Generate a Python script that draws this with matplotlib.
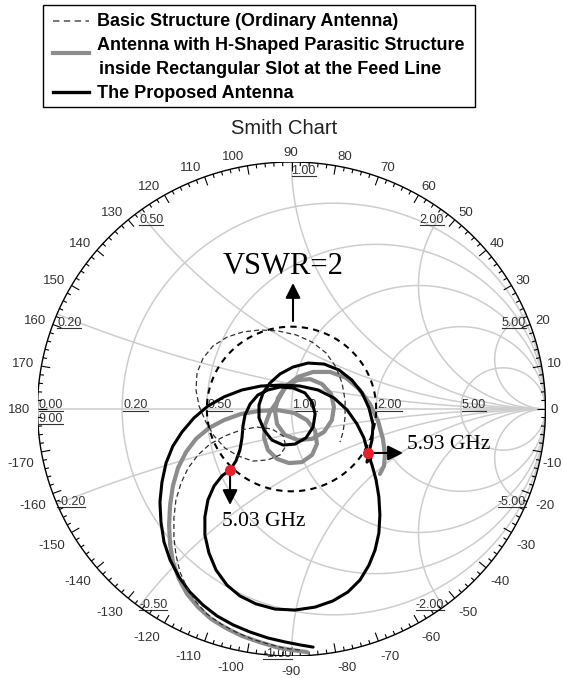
import numpy as np
import matplotlib
matplotlib.use("Agg")
import matplotlib.pyplot as plt
from matplotlib.patches import Rectangle

# reflection coefficient traces, Gamma = re + j*im
basic_re = [0.033, -0.030, -0.093, -0.156, -0.219, -0.278, -0.333, -0.376, -0.411, -0.439,
            -0.455, -0.463, -0.463, -0.455, -0.435, -0.407, -0.368, -0.321, -0.262, -0.199,
            -0.136, -0.077, -0.033, -0.022, -0.045, -0.093, -0.152, -0.211, -0.262, -0.305,
            -0.337, -0.364, -0.376, -0.372, -0.348, -0.309, -0.254, -0.191, -0.124, -0.053,
            0.018, 0.081, 0.136, 0.175, 0.199, 0.211, 0.211, 0.203, 0.191]
basic_im = [-0.976, -0.968, -0.951, -0.931, -0.903, -0.870, -0.830, -0.781, -0.725, -0.660,
            -0.591, -0.518, -0.441, -0.368, -0.300, -0.239, -0.186, -0.142, -0.109, -0.085,
            -0.073, -0.081, -0.109, -0.150, -0.186, -0.206, -0.211, -0.190, -0.158, -0.109,
            -0.053, 0.012, 0.077, 0.146, 0.206, 0.255, 0.291, 0.312, 0.320, 0.316,
            0.300, 0.271, 0.227, 0.170, 0.105, 0.036, -0.032, -0.093, -0.134]

hslot_re = [0.061, 0.002, -0.061, -0.128, -0.195, -0.258, -0.317, -0.368, -0.411, -0.443,
            -0.467, -0.478, -0.482, -0.478, -0.467, -0.447, -0.415, -0.376, -0.325, -0.266,
            -0.199, -0.128, -0.057, 0.010, 0.061, 0.093, 0.100, 0.081, 0.041, -0.010,
            -0.057, -0.093, -0.108, -0.104, -0.085, -0.053, -0.026, 0.022, 0.073, 0.120,
            0.156, 0.167, 0.159, 0.128, 0.081, 0.026, -0.026, -0.057, -0.065, -0.053,
            -0.022, 0.026, 0.085, 0.152, 0.215, 0.266, 0.309, 0.341, 0.360, 0.368,
            0.364, 0.348]
hslot_im = [-0.984, -0.976, -0.964, -0.943, -0.919, -0.887, -0.850, -0.802, -0.749, -0.688,
            -0.619, -0.547, -0.470, -0.389, -0.312, -0.239, -0.174, -0.121, -0.077, -0.045,
            -0.020, -0.008, -0.004, -0.016, -0.045, -0.089, -0.142, -0.186, -0.215, -0.219,
            -0.202, -0.166, -0.117, -0.065, -0.012, 0.036, 0.085, 0.117, 0.121, 0.101,
            0.061, 0.008, -0.045, -0.093, -0.121, -0.126, -0.105, -0.061, -0.008, 0.045,
            0.093, 0.130, 0.150, 0.150, 0.126, 0.081, 0.020, -0.049, -0.121, -0.186,
            -0.231, -0.263]

prop_re = [0.085, 0.033, -0.026, -0.093, -0.163, -0.230, -0.293, -0.348, -0.400, -0.443,
           -0.478, -0.502, -0.514, -0.518, -0.510, -0.494, -0.467, -0.431, -0.384, -0.329,
           -0.266, -0.195, -0.120, -0.041, 0.033, 0.104, 0.167, 0.219, 0.258, 0.285,
           0.301, 0.317, 0.333, 0.344, 0.348, 0.344, 0.329, 0.305, 0.270, 0.222,
           0.163, 0.093, 0.014, -0.065, -0.140, -0.203, -0.254, -0.297, -0.325, -0.341,
           -0.341, -0.329, -0.305, -0.274, -0.242, -0.219, -0.203, -0.195, -0.191, -0.183,
           -0.163, -0.132, -0.093, -0.045, 0.006, 0.053, 0.081, 0.093, 0.085, 0.057,
           0.014, -0.033, -0.077, -0.108, -0.128, -0.128, -0.112, -0.085, -0.045, 0.006,
           0.065, 0.128, 0.187, 0.238, 0.278, 0.305, 0.321, 0.317, 0.305, 0.297,
           0.313]
prop_im = [-0.964, -0.955, -0.943, -0.927, -0.903, -0.874, -0.838, -0.794, -0.741, -0.680,
           -0.611, -0.538, -0.457, -0.377, -0.296, -0.219, -0.150, -0.093, -0.036, 0.012,
           0.049, 0.077, 0.093, 0.097, 0.093, 0.077, 0.045, -0.004, -0.061, -0.117,
           -0.178, -0.227, -0.287, -0.356, -0.429, -0.502, -0.571, -0.632, -0.692, -0.741,
           -0.777, -0.802, -0.814, -0.810, -0.789, -0.757, -0.713, -0.652, -0.583, -0.510,
           -0.437, -0.368, -0.312, -0.271, -0.247, -0.211, -0.166, -0.117, -0.069, -0.024,
           0.020, 0.057, 0.077, 0.089, 0.085, 0.065, 0.028, -0.020, -0.073, -0.117,
           -0.142, -0.146, -0.126, -0.085, -0.036, 0.016, 0.065, 0.105, 0.142, 0.170,
           0.186, 0.182, 0.158, 0.117, 0.065, 0.004, -0.061, -0.126, -0.174, -0.215,
           -0.198]

# where the proposed antenna crosses the VSWR = 2 circle
mark_labels = ["5.03 GHz", "5.93 GHz"]
mark_re = [-0.242, 0.301]
mark_im = [-0.247, -0.178]

vswr = 2
r_grid = [0.2, 0.5, 1.0, 2.0, 5.0]
x_grid = [0.2, 0.5, 1.0, 2.0, 5.0]
legend_lines = ["Basic Structure (Ordinary Antenna)",
                "Antenna with H-Shaped Parasitic Structure",
                "inside Rectangular Slot at the Feed Line",
                "The Proposed Antenna"]

SANS = "Liberation Sans"
SERIF = "Liberation Serif"
GRID = "#cdcdcd"
LBL = "#333333"

W, H = 563, 678
CX, CY, RX, RY = 291.5, 409.0, 254.0, 247.0   # chart centre / radii in pixels


def pd(px, py):
    # pixel position -> chart data coords
    return (px - CX) / RX, (CY - py) / RY


def rim(deg, inset=0.0):
    a = np.radians(deg)
    return CX + (RX - inset) * np.cos(a), CY - (RY - inset) * np.sin(a)


fig = plt.figure(figsize=(W / 100, H / 100), dpi=100)
ax = fig.add_axes([(CX - RX) / W, 1 - (CY + RY) / H, 2 * RX / W, 2 * RY / H])
ax.set_xlim(-1, 1)
ax.set_ylim(-1, 1)
ax.axis("off")

# impedance grid
t = np.linspace(0, 2 * np.pi, 721)
for r in r_grid:
    c, rad = r / (1 + r), 1 / (1 + r)
    ax.plot(c + rad * np.cos(t), rad * np.sin(t), color=GRID, lw=1.1, zorder=1)
rr = np.concatenate([np.linspace(0, 1, 200), np.logspace(0, 4, 500)])
for x in x_grid:
    for s in (1, -1):
        g = (rr + 1j * s * x - 1) / (rr + 1j * s * x + 1)
        ax.plot(g.real, g.imag, color=GRID, lw=1.1, zorder=1)
ax.plot([-1, 1], [0, 0], color=GRID, lw=1.1, zorder=1)

# outer rim with angle ticks
ax.plot(np.cos(t), np.sin(t), color="k", lw=1.0, zorder=4)
for d in range(-180, 180, 2):
    L = 9 if d % 10 == 0 else 4
    x0, y0 = rim(d)
    x1, y1 = rim(d, L)
    a, b = pd(x0, y0)
    c, e = pd(x1, y1)
    ax.plot([a, c], [b, e], color="k", lw=0.8, zorder=4, solid_capstyle="butt")

for d in range(-170, 181, 10):
    a = np.radians(d)
    px, py = rim(d)
    ca, sa = np.cos(a), np.sin(a)
    if abs(d) == 90:
        ha, px = "center", px - 1
    elif d == -10:
        ha, px = "right", W - 1
    elif ca > 0:
        ha, px = "left", px + 1 + 4 * abs(ca)
    else:
        ha, px = "right", px - 2 - 5 * abs(ca)
    if d in (0, 180):
        py += 1
    elif d > 0:
        py += -1 - 8 * sa
    else:
        py += 11 + 5 * abs(sa)
    ax.text(*pd(px, py), str(d), ha=ha, va="center", fontsize=9.5,
            family=SANS, color=LBL, zorder=2)

# underlined grid values
underlined = []


def grid_label(s, px, base, ha):
    tx = ax.text(*pd(px, base), s, ha=ha, va="baseline", fontsize=9,
                 family=SANS, color=LBL, zorder=2)
    underlined.append((tx, base))


grid_label("0.00", 38.5, 408.5, "left")
grid_label("9.00", 38.5, 421.5, "left")
for r in r_grid:
    gx = (r - 1) / (r + 1)
    grid_label(f"{r:.2f}", CX + RX * gx + 1, 408.5, "left")
for x in x_grid:
    for s in (1, -1):
        g = (1j * s * x - 1) / (1j * s * x + 1)
        px, py = CX + RX * g.real, CY - RY * g.imag
        if s > 0:
            ha = "left" if g.real <= 0.01 else "right"
            grid_label(f"{x:.2f}", px, py + 12, ha)
        else:
            ha = "left" if g.real < -0.01 else "right"
            grid_label(f"{-x:.2f}", px, py + 1, ha)

# measured traces
ax.plot(hslot_re, hslot_im, color="#8c8c8c", lw=3.0, zorder=5,
        solid_joinstyle="round", solid_capstyle="round")
ax.plot(prop_re, prop_im, color="k", lw=2.2, zorder=6,
        solid_joinstyle="round", solid_capstyle="round")
ax.plot(basic_re, basic_im, color="#2e2e2e", lw=0.9, ls=(0, (4, 2.5)), zorder=7)

# VSWR = 2 circle
rho = (vswr - 1) / (vswr + 1)
ax.plot(rho * np.cos(t), rho * np.sin(t), color="k", lw=1.5,
        ls=(0, (3, 2.5)), zorder=7)

arrow = dict(arrowstyle="-|>,head_length=0.6,head_width=0.3", lw=1.5,
             color="k", shrinkA=0, shrinkB=0, mutation_scale=15)
ax.annotate("", xy=pd(293, 283), xytext=pd(293, 321), arrowprops=arrow, zorder=8)
ax.text(*pd(283, 266), f"VSWR={vswr}", ha="center", va="center",
        fontsize=22, family=SERIF, zorder=8)

ax.plot(mark_re, mark_im, "o", color="#e8202a", ms=8, mec="none", zorder=9)
tips = [(0, 35), (35, 0)]          # arrow direction in pixels
texts = [(-8, 51), (39, -8)]
for lab, gr, gi, (dx, dy), (tx, ty) in zip(mark_labels, mark_re, mark_im, tips, texts):
    px, py = CX + RX * gr, CY - RY * gi
    ax.annotate("", xy=pd(px + dx, py + dy), xytext=(gr, gi), arrowprops=arrow, zorder=8)
    ax.text(*pd(px + tx, py + ty), lab, ha="left", va="center",
            fontsize=15.5, family=SERIF, zorder=8)

# title
ax.text(*pd(284, 128), "Smith Chart", ha="center", va="center", fontsize=14.5,
        family=SANS, color="#222222")

# legend box
x0, y0 = pd(43, 107)
x1, y1 = pd(475, 5)
ax.add_patch(Rectangle((x0, y0), x1 - x0, y1 - y0, fill=False, ec="k", lw=1.0,
                       clip_on=False))
sx0, _ = pd(53, 0)
sx1, _ = pd(89, 0)
ax.plot([sx0, sx1], [pd(0, 21)[1]] * 2, color="#6a6a6a", lw=1.3, ls=(0, (3.5, 2.5)),
        clip_on=False)
ax.plot([sx0, sx1], [pd(0, 53)[1]] * 2, color="#8c8c8c", lw=3.0, clip_on=False)
ax.plot([sx0, sx1], [pd(0, 92)[1]] * 2, color="k", lw=2.4, clip_on=False)
for s, px, py in zip(legend_lines, [97, 97, 99, 97], [21, 46, 69, 94]):
    ax.text(*pd(px, py), s, ha="left", va="center", fontsize=13,
            fontweight="bold", family=SANS)

fig.canvas.draw()
rend = fig.canvas.get_renderer()
inv = ax.transData.inverted()
for tx, base in underlined:
    bb = tx.get_window_extent(rend)
    ux0 = inv.transform((bb.x0, 0))[0]
    ux1 = inv.transform((bb.x1, 0))[0]
    uy = pd(0, base + 2)[1]
    ax.plot([ux0, ux1], [uy, uy], color=LBL, lw=0.8, zorder=2, clip_on=False)

fig.savefig("out.png", dpi=100)
